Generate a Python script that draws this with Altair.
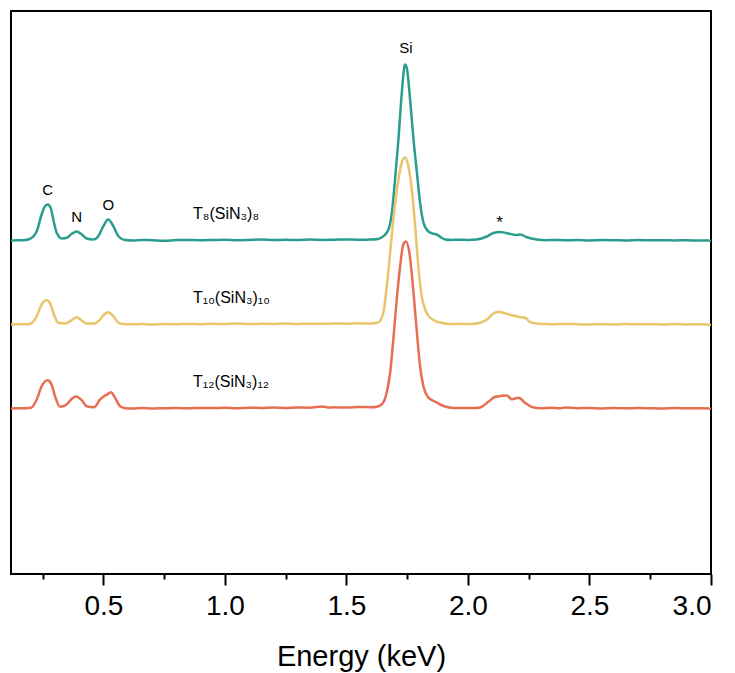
import altair as alt
import pandas as pd

# EDS spectra of the three azide-functionalised cages (counts in a.u. above each baseline)
teal_energy = [0.12, 0.15, 0.18, 0.198, 0.226, 0.246, 0.26, 0.271, 0.283, 0.294, 0.308, 0.329,
               0.349, 0.37, 0.39, 0.411, 0.431, 0.459, 0.479, 0.5, 0.52, 0.541, 0.562, 0.589,
               0.62, 0.66, 0.70, 0.75, 0.80, 0.85, 0.90, 0.95, 1.00, 1.05, 1.10, 1.15, 1.20,
               1.25, 1.30, 1.35, 1.40, 1.45, 1.50, 1.55, 1.60, 1.63, 1.652, 1.673, 1.687, 1.700,
               1.714, 1.728, 1.741, 1.748, 1.762, 1.776, 1.790, 1.803, 1.817, 1.837, 1.855,
               1.872, 1.89, 1.906, 1.93, 1.96, 2.00, 2.036, 2.078, 2.105, 2.132, 2.166, 2.201,
               2.215, 2.242, 2.283, 2.32, 2.36, 2.40, 2.45, 2.50, 2.55, 2.60, 2.65, 2.70, 2.75,
               2.80, 2.85, 2.90, 2.95, 3.00]
teal_counts = [0.0, 0.2, 0.6, 1.7, 9.3, 26.0, 34.3, 36.0, 32.7, 21.0, 7.7, 2.0,
               2.7, 6.7, 9.0, 6.0, 2.0, 1.0, 4.3, 14.3, 21.0, 14.3, 4.3, 0.5,
               0.0, 0.6, 0.3, -0.2, 0.4, 0.6, 0.2, 0.5, 0.8, 0.3, 0.6, 0.9, 0.4,
               0.7, 0.5, 0.9, 0.6, 0.8, 1.1, 0.7, 0.9, 1.5, 4.3, 11.0, 27.7, 61.0,
               101.0, 148.0, 176.0, 173.0, 141.0, 101.0, 68.0, 38.0, 18.0, 9.0, 7.0,
               6.0, 3.0, 1.0, 0.5, 0.8, 0.6, 1.0, 4.0, 7.5, 8.5, 7.0, 5.5,
               6.0, 3.3, 1.0, 0.3, 0.6, 0.2, 0.5, 0.1, 0.4, 0.3, 0.1, 0.5, 0.2,
               0.3, 0.0, 0.3, -0.1, 0.1]

gold_energy = [0.12, 0.15, 0.18, 0.202, 0.226, 0.246, 0.267, 0.28, 0.294, 0.315, 0.342, 0.37,
               0.39, 0.411, 0.431, 0.462, 0.486, 0.503, 0.52, 0.541, 0.562, 0.59, 0.62, 0.66,
               0.70, 0.75, 0.80, 0.85, 0.90, 0.95, 1.00, 1.05, 1.10, 1.15, 1.20, 1.25, 1.30,
               1.35, 1.40, 1.45, 1.50, 1.55, 1.60, 1.63, 1.652, 1.666, 1.68, 1.693, 1.714,
               1.728, 1.741, 1.755, 1.769, 1.783, 1.796, 1.81, 1.824, 1.844, 1.865, 1.885,
               1.91, 1.94, 1.97, 2.00, 2.03, 2.05, 2.078, 2.105, 2.125, 2.146, 2.173, 2.208,
               2.235, 2.256, 2.283, 2.32, 2.36, 2.40, 2.45, 2.50, 2.55, 2.60, 2.65, 2.70,
               2.75, 2.80, 2.85, 2.90, 2.95, 3.00]
gold_counts = [0.0, 0.3, 0.2, 1.0, 8.3, 20.0, 24.3, 21.7, 11.7, 1.7, 1.0, 4.3,
               7.3, 4.0, 1.0, 1.0, 5.0, 10.0, 12.3, 8.3, 1.7, 0.3, 0.2, 0.5,
               0.1, 0.4, 0.2, 0.6, 0.3, 0.7, 0.5, 0.9, 0.4, 0.8, 0.6, 0.9, 0.5,
               0.8, 0.7, 1.0, 0.8, 1.2, 1.0, 1.8, 12.0, 38.0, 72.0, 105.0, 145.0,
               162.0, 167.0, 158.0, 135.0, 98.0, 58.0, 28.0, 15.0, 7.0, 3.5, 2.0,
               0.8, 0.5, 0.7, 0.4, 0.8, 1.7, 5.0, 11.0, 12.7, 11.7, 9.7, 7.7,
               6.7, 2.3, 1.0, 0.5, 0.3, 0.6, 0.2, 0.0, 0.3, 0.1, 0.5, 0.2,
               0.3, 0.0, 0.4, 0.1, 0.2, -0.2]

coral_energy = [0.12, 0.15, 0.18, 0.202, 0.226, 0.246, 0.271, 0.287, 0.301, 0.322, 0.349, 0.37,
                0.387, 0.411, 0.431, 0.462, 0.486, 0.503, 0.516, 0.531, 0.548, 0.569, 0.59,
                0.62, 0.66, 0.70, 0.75, 0.80, 0.85, 0.90, 0.95, 1.00, 1.05, 1.10, 1.15, 1.20,
                1.25, 1.30, 1.35, 1.40, 1.43, 1.45, 1.50, 1.55, 1.60, 1.625, 1.645, 1.666,
                1.68, 1.693, 1.707, 1.721, 1.734, 1.745, 1.759, 1.776, 1.79, 1.803, 1.817,
                1.837, 1.855, 1.872, 1.89, 1.906, 1.93, 1.96, 2.00, 2.03, 2.05, 2.084, 2.112,
                2.139, 2.16, 2.18, 2.208, 2.235, 2.27, 2.30, 2.34, 2.38, 2.40, 2.45, 2.50,
                2.55, 2.60, 2.65, 2.70, 2.75, 2.80, 2.85, 2.90, 2.95, 3.00]
coral_counts = [0.0, 0.2, 0.3, 0.7, 9.0, 22.3, 28.3, 24.0, 12.3, 1.7, 4.0, 9.7,
                12.0, 8.3, 2.3, 1.3, 9.0, 12.3, 14.0, 16.3, 10.7, 2.3, 0.3,
                0.1, 0.4, 0.0, 0.3, 0.5, 0.2, 0.6, 0.4, 0.7, 0.3, 0.8, 0.5, 0.9,
                0.6, 1.0, 0.8, 2.0, 0.9, 1.2, 0.9, 1.5, 1.3, 1.8, 4.0, 16.0,
                36.0, 69.0, 109.0, 142.0, 164.0, 167.0, 156.0, 116.0, 76.0, 42.0, 22.0,
                11.0, 8.0, 6.0, 3.5, 2.0, 0.8, 0.4, 0.6, 0.5, 1.0, 6.7, 11.7,
                12.7, 13.0, 9.3, 10.7, 5.7, 1.0, 0.3, 0.7, 0.2, 1.0, 0.3, 0.5,
                0.1, 0.4, 0.2, 0.5, 0.3, 0.0, 0.4, 0.2, 0.3, 0.1]

series_names = ["T₈(SiN₃)₈", "T₁₀(SiN₃)₁₀", "T₁₂(SiN₃)₁₂"]
series_colors = ["#2A9D8F", "#E9C46A", "#E76F51"]
# vertical stacking offset of each spectrum
series_offsets = [333.5, 249.5, 165.5]

# element annotations
peak_text = ["C", "N", "O", "Si"]
peak_energy = [0.271, 0.39, 0.52, 1.745]
peak_level = [384.5, 356.8, 369.5, 526.5]

# artefact marker above the 2.1 keV hump
star_text = ["*"]
star_energy = [2.13]
star_level = [351.0]

name_energy = [0.869, 0.869, 0.869]
name_level = [360.5, 276.5, 192.5]

frames = []
for name, e, c, off in zip(series_names,
                           [teal_energy, gold_energy, coral_energy],
                           [teal_counts, gold_counts, coral_counts],
                           series_offsets):
    frames.append(pd.DataFrame({"energy": e,
                                "intensity": [v + off for v in c],
                                "series": name}))
spectra = pd.concat(frames, ignore_index=True)

peaks = pd.DataFrame({"text": peak_text, "energy": peak_energy, "level": peak_level})
stars = pd.DataFrame({"text": star_text, "energy": star_energy, "level": star_level})
names = pd.DataFrame({"text": series_names, "energy": name_energy, "level": name_level})

FONT = "Liberation Sans"
xscale = alt.Scale(domain=[0.12, 3.0], nice=False, zero=False)
yscale = alt.Scale(domain=[0, 563], nice=False, zero=False)

tick_values = [0.25, 0.5, 0.75, 1.0, 1.25, 1.5, 1.75, 2.0, 2.25, 2.5, 2.75, 3.0]

x_axis = alt.Axis(
    values=tick_values,
    labelExpr="datum.value % 0.5 === 0 ? format(datum.value, '.1f') : ''",
    domain=False,
    grid=False,
    tickColor="black",
    tickWidth=2,
    tickSize={"condition": {"test": "datum.value % 0.5 !== 0", "value": 5}, "value": 11},
    labelFont=FONT,
    labelFontSize=28,
    labelColor="black",
    labelPadding=7,
    title="Energy (keV)",
    titleFont=FONT,
    titleFontSize=29,
    titleFontWeight="normal",
    titleColor="black",
    titlePadding=22,
)

lines = alt.Chart(spectra).mark_line(strokeWidth=2.5, interpolate="monotone").encode(
    x=alt.X("energy:Q", scale=xscale, axis=x_axis),
    y=alt.Y("intensity:Q", scale=yscale, axis=None),
    color=alt.Color("series:N",
                    scale=alt.Scale(domain=series_names, range=series_colors),
                    legend=None),
    detail="series:N",
)

peak_labels = alt.Chart(peaks).mark_text(
    font=FONT, fontSize=15, color="black", align="center", baseline="middle"
).encode(
    x=alt.X("energy:Q", scale=xscale),
    y=alt.Y("level:Q", scale=yscale),
    text="text:N",
)

star_label = alt.Chart(stars).mark_text(
    font=FONT, fontSize=17, color="black", align="center", baseline="middle"
).encode(
    x=alt.X("energy:Q", scale=xscale),
    y=alt.Y("level:Q", scale=yscale),
    text="text:N",
)

name_labels = alt.Chart(names).mark_text(
    font=FONT, fontSize=16, color="black", align="left", baseline="middle"
).encode(
    x=alt.X("energy:Q", scale=xscale),
    y=alt.Y("level:Q", scale=yscale),
    text="text:N",
)

chart = alt.layer(lines, peak_labels, star_label, name_labels).properties(
    width=700,
    height=563,
    padding={"left": 6, "top": 11, "right": 5, "bottom": 5},
).configure_view(
    stroke="black",
    strokeWidth=2,
)

chart.save("out.html", embed_options={"renderer": "svg", "actions": False})
